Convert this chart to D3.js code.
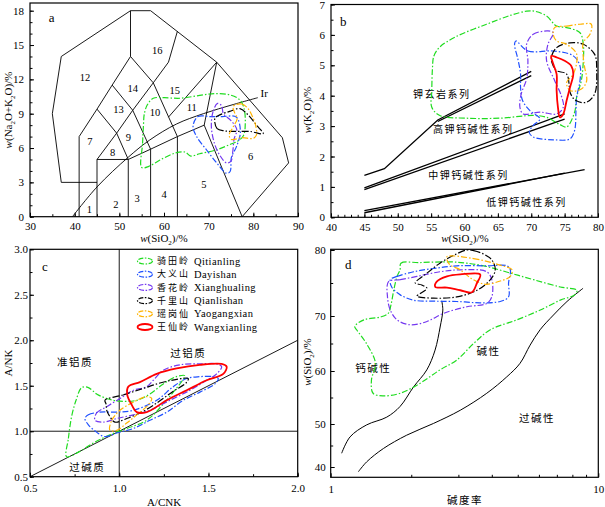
<!DOCTYPE html>
<html lang="zh">
<head>
<meta charset="UTF-8">
<title>Granite discrimination diagrams</title>
<script src="https://cdn.jsdelivr.net/npm/d3@7/dist/d3.min.js"></script>
<style>
  body { margin: 0; background: #fff; }
  text { font-family: "Liberation Serif", "DejaVu Serif", serif; fill: #000; }
  .cn { font-family: "Noto Sans CJK SC", sans-serif; letter-spacing: 1.5px; }
  .axis line { stroke: #000; }
  .axis path { display: none; }
  .axis text { font-size: 11px; }
</style>
</head>
<body>
<script>
// ---- groups (legend) ----
var groupCn = ["骑田岭", "大义山", "香花岭", "千里山", "瑶岗仙", "王仙岭"];
var groupEn = ["Qitianling", "Dayishan", "Xianghualing", "Qianlishan", "Yaogangxian", "Wangxianling"];
var groupColor = ["#1fdc1f", "#1f50ff", "#7438f0", "#000000", "#ffb300", "#ff0000"];

// ---- a: TAS diagram ----
var tasLines = [
  [[37,3],[35,9],[37,14],[52.5,18],[57,18],[71.8,13.5],[86.5,6.9],[87.9,4.7],[77.5,0]],
  [[37,3],[45,3]],
  [[41,0],[41,7],[45,9.4],[48.4,11.5],[52.5,14],[52.5,18]],
  [[45,0],[45,5],[52,5],[57,5.9],[63,7],[69,8],[71.8,13.5]],
  [[52,0],[52,5]], [[57,0],[57,5.9]], [[63,0],[63,7]],
  [[69,8],[77.5,0]],
  [[45,9.4],[49.4,7.3],[52,5]],
  [[45,5],[49.4,7.3],[53,9.3],[57.6,11.7]],
  [[48.4,11.5],[53,9.3],[57,5.9]],
  [[52.5,14],[57.6,11.7],[63,7]],
  [[57.6,11.7],[61,13.5],[63,16.2]],
  [[61,8.7],[71.8,13.5]]
];
var irvine = [[39.5,0],[45,2.6],[52,5.2],[56.8,6.7],[62.8,8.1],[68.8,9.0],[75.5,9.8],[81,10.4]];
var tasFieldNames = ["1","2","3","4","5","6","7","8","9","10","11","12","13","14","15","16"];
var tasFieldPos = [[43.3,0.65],[49.2,1.1],[54,1.55],[60,1.95],[68.9,2.8],[79.4,5.3],[43.4,6.6],[48.5,5.6],[52,6.9],[58,9.1],[66.2,9.55],[42.3,12.2],[49.8,9.4],[53,11.2],[62.4,11.0],[58.5,14.5]];
var tasOutlines = [
  [[55.0,4.3],[55.2,6.4],[55.4,8.0],[55.6,9.0],[56.3,9.8],[57.6,10.35],[60,10.4],[63.6,10.35],[68,10.6],[71.5,10.75],[74.7,10.65],[77,10.2],[77.9,9.5],[78.2,8.2],[77.8,7.1],[76.5,6.6],[74.7,6.3],[71.8,5.85],[68,5.5],[66,5.3],[64.7,5.65],[62.4,5.55],[59.1,4.95],[56.6,4.4]],
  [[66.5,7.9],[67.6,8.75],[70.3,8.75],[73,8.75],[76.2,8.7],[77.1,7.4],[76.2,6.1],[75.1,5.2],[74.8,3.95],[74,3.8],[71.8,4.7],[69.5,5.85],[67.3,7.0]],
  [[72.0,9.9],[71.0,9.2],[70.6,7.9],[71.3,6.4],[72.6,5.3],[74.0,4.7],[75.0,4.85],[75.4,5.7],[75.7,6.8],[76.3,7.6],[75.0,8.4],[73.3,9.0],[72.9,9.7]],
  [[71.4,8.6],[71.9,7.7],[73.5,7.5],[76,7.45],[79.2,7.45],[82.2,7.25],[80.7,8.0],[78.8,8.9],[77,9.45],[74.7,9.2],[72.5,8.9]],
  [[75.5,9.65],[77.4,9.85],[78.8,9.45],[79.8,8.75],[80.5,8.0],[80.7,7.15],[80.0,6.85],[77.4,6.9],[75.1,6.75],[74.6,7.15],[75.5,7.85],[76.4,8.6],[75.9,9.0]],
  null
];

// ---- b: SiO2-K2O ----
var kLines = [
  [[45,1.38],[48,1.6],[56,3.2],[70,4.8]],
  [[56,3.15],[70,4.66]],
  [[45,0.97],[75,3.4]],
  [[45,0.91],[75,3.23]],
  [[45,0.22],[78,1.57]],
  [[45,0.15],[75,1.45]]
];
var kSeriesNames = ["钾玄岩系列", "高钾钙碱性系列", "中钾钙碱性系列", "低钾钙碱性系列"];
var kSeriesPos = [[56.6,4.08],[61.3,2.91],[60.6,1.42],[69.3,0.53]];
var kOutlines = [
  [[55.2,4.9],[55.4,5.3],[56.3,5.6],[58.8,5.95],[63.3,6.35],[67,6.65],[69.3,6.78],[70.5,6.78],[72.3,6.62],[73.8,6.29],[75.3,6.24],[77.3,6.07],[77.8,5.69],[77.8,5.15],[77.5,4.49],[76.8,3.95],[76.5,3.46],[75.3,2.97],[74.3,3.05],[72.3,3.29],[70.3,3.35],[65.3,3.26],[60.3,3.26],[56.3,3.35],[55.1,3.62],[55.1,4.17]],
  [[67.7,5.8],[69.5,5.47],[73.3,5.47],[76.3,5.31],[77.3,4.98],[77.3,4.49],[76.8,3.95],[76.7,3.51],[76.5,2.86],[75.8,2.58],[73.3,2.55],[70.3,2.64],[69.7,2.8],[70.3,3.02],[71.3,3.24],[69.8,3.51],[68.7,3.84],[68.4,4.27],[68.4,4.71],[68.0,5.2],[67.5,5.69]],
  [[69.3,5.69],[70.3,6.02],[72.5,6.13],[73.3,6.07],[72.5,5.69],[72.3,5.15],[73.5,4.5],[74.5,4.0],[74.8,3.62],[73.8,3.4],[71.3,3.46],[68.8,3.4],[68.3,3.62],[68.5,4.06],[69.3,4.55],[69.5,5.15]],
  [[73.0,5.25],[73.8,5.58],[75.8,5.74],[77.8,5.69],[79.5,5.36],[79.8,4.82],[79.5,4.06],[78.2,3.78],[76.7,3.84],[75.9,4.06],[75.3,4.71],[73.8,4.82],[73.3,4.98]],
  [[73.5,6.24],[75.3,6.29],[77.3,6.35],[79.0,6.35],[78.8,6.02],[77.8,5.75],[77.8,5.26],[78.0,4.93],[78.3,4.49],[77.5,4.22],[75.8,4.17],[75.3,4.44],[76.3,4.71],[76.8,5.37],[75.3,5.69],[73.8,5.8],[73.3,6.02]],
  [[73.0,5.31],[73.8,5.26],[75.0,5.15],[76.0,4.98],[76.3,4.71],[75.8,4.27],[75.3,3.84],[74.8,3.4],[74.3,3.29],[74.0,3.62],[73.8,4.17],[73.8,4.71],[73.3,5.04]]
];

// ---- c: A/CNK - A/NK ----
var acnkNames = ["准铝质", "过铝质", "过碱质"];
var acnkPos = [[0.752,1.77],[1.387,1.86],[0.821,0.61]];
var acnkOutlines = [
  [[0.705,0.72],[0.715,0.92],[0.733,1.16],[0.758,1.34],[0.79,1.48],[0.827,1.48],[0.873,1.41],[0.93,1.36],[1.004,1.33],[1.098,1.34],[1.172,1.41],[1.247,1.52],[1.32,1.6],[1.368,1.61],[1.355,1.56],[1.303,1.43],[1.247,1.3],[1.191,1.18],[1.135,1.1],[1.042,1.03],[0.948,0.96],[0.855,0.87],[0.771,0.77]],
  [[0.808,1.14],[0.827,1.18],[0.892,1.21],[0.986,1.21],[1.079,1.23],[1.21,1.34],[1.303,1.49],[1.378,1.58],[1.452,1.6],[1.527,1.6],[1.555,1.58],[1.536,1.52],[1.452,1.43],[1.359,1.34],[1.266,1.21],[1.172,1.12],[1.079,1.03],[0.986,0.98],[0.92,0.94],[0.873,0.99],[0.827,1.07]],
  [[0.864,1.12],[0.873,1.2],[0.93,1.27],[1.004,1.36],[1.079,1.45],[1.154,1.49],[1.191,1.56],[1.247,1.67],[1.34,1.73],[1.452,1.74],[1.546,1.74],[1.574,1.71],[1.546,1.63],[1.49,1.56],[1.396,1.45],[1.284,1.34],[1.172,1.23],[1.079,1.18],[0.986,1.14],[0.911,1.1]],
  [[0.92,1.34],[1.023,1.40],[1.135,1.47],[1.228,1.53],[1.322,1.57],[1.387,1.58],[1.374,1.53],[1.303,1.44],[1.21,1.31],[1.116,1.20],[1.042,1.14],[0.976,1.1],[0.948,1.16],[0.93,1.23],[0.926,1.3]],
  [[0.948,1.01],[0.958,1.12],[1.004,1.23],[1.079,1.32],[1.154,1.38],[1.182,1.36],[1.163,1.29],[1.098,1.18],[1.042,1.09],[0.986,1.01]],
  [[1.051,1.49],[1.116,1.54],[1.21,1.63],[1.322,1.69],[1.452,1.73],[1.574,1.74],[1.602,1.71],[1.583,1.63],[1.49,1.56],[1.378,1.45],[1.266,1.34],[1.154,1.21],[1.098,1.21],[1.07,1.29],[1.045,1.4]]
];

// ---- d: alkalinity ratio - SiO2 ----
var arCurve1 = [[1.099,43.2],[1.181,47.0],[1.363,49.8],[1.62,51.3],[1.816,53.3],[2.04,57.0],[2.286,60.2],[2.455,63.8],[2.564,68.0],[2.624,70.9],[2.6,72.3]];
var arCurve2 = [[1.269,38.9],[1.363,41.2],[1.574,44.3],[1.923,47.4],[2.42,50.1],[3.05,52.6],[3.83,55.8],[4.55,58.9],[5.1,61.4],[5.56,64.7],[6.06,67.5],[6.8,70.15],[7.64,72.2],[8.77,74.2]];
var arNames = ["钙碱性", "碱性", "过碱性"];
var arPos = [[1.443,60.7],[3.89,63.7],[5.9,51.2]];
var arOutlines = [
  [[1.816,77.0],[1.83,78.0],[2.16,78.1],[2.8,78.2],[3.23,78.0],[3.83,77.5],[4.69,76.5],[5.73,75.5],[7.21,74.4],[8.32,73.9],[8.15,73.2],[7.21,72.4],[6.07,70.9],[4.96,69.3],[3.95,67.5],[3.42,65.0],[2.96,62.0],[2.56,60.2],[2.16,57.7],[1.82,55.8],[1.57,55.3],[1.44,55.8],[1.42,58.3],[1.47,61.4],[1.36,65.0],[1.25,67.5],[1.23,68.1],[1.33,69.3],[1.53,69.8],[1.64,70.4],[1.68,71.7],[1.72,73.9],[1.77,76.0]],
  [[1.67,75.5],[1.77,76.0],[2.04,76.7],[2.42,77.2],[2.96,77.6],[3.83,77.6],[4.55,77.6],[4.69,77.0],[4.62,75.0],[4.62,72.9],[4.30,72.2],[3.62,72.0],[2.96,72.2],[2.42,72.25],[2.04,72.4],[1.82,73.2],[1.69,74.4]],
  [[1.645,75.2],[1.82,75.5],[2.1,76.0],[2.56,76.7],[3.05,77.0],[3.83,76.7],[4.0,75.5],[4.0,72.9],[3.83,71.9],[3.23,71.4],[2.64,70.4],[2.29,69.0],[1.98,68.4],[1.77,69.3],[1.67,70.9],[1.63,72.9]],
  [[3.23,80.0],[3.42,79.9],[3.72,79.4],[4.0,78.5],[4.12,77.0],[3.95,75.5],[3.52,73.9],[2.96,72.9],[2.42,72.7],[2.1,73.0],[2.16,73.4],[2.29,74.2],[2.19,74.7],[2.07,75.0],[2.29,76.5],[2.56,78.0],[2.88,79.2]],
  [[2.72,79.0],[3.42,78.7],[4.30,77.7],[4.76,77.0],[4.69,76.0],[4.30,75.3],[3.83,74.8],[3.62,75.0],[3.32,75.8],[3.05,77.0],[2.8,77.7],[2.72,78.5]],
  [[2.46,74.4],[2.49,75.2],[2.72,76.0],[3.05,76.3],[3.62,76.3],[3.52,75.0],[3.37,73.6],[3.05,73.9],[2.72,74.3]]
];

var svg = d3.select("body").append("svg")
  .attr("width", 605)
  .attr("height", 507);

function dashFor(i) {
  if (i == 5) return null;
  if (i == 3) return "7,2,1.5,2";
  return "6,2,1.5,2";
}

function drawAxes(box, x, y, xt, xm, yt, ym, xf, yf, padX, padY) {
  var g = svg.append("g");
  g.append("g").attr("class", "axis").attr("transform", "translate(0," + box.y1 + ")")
    .call(d3.axisBottom(x).tickValues(xm).tickSize(-2.5).tickFormat(""));
  g.append("g").attr("class", "axis").attr("transform", "translate(0," + box.y1 + ")")
    .call(d3.axisBottom(x).tickValues(xt).tickSizeInner(-4).tickSizeOuter(0).tickPadding(padX).tickFormat(xf));
  g.append("g").attr("class", "axis").attr("transform", "translate(" + box.x0 + ",0)")
    .call(d3.axisLeft(y).tickValues(ym).tickSize(-2.5).tickFormat(""));
  g.append("g").attr("class", "axis").attr("transform", "translate(" + box.x0 + ",0)")
    .call(d3.axisLeft(y).tickValues(yt).tickSizeInner(-4).tickSizeOuter(0).tickPadding(padY).tickFormat(yf));
  g.append("rect")
    .attr("x", box.x0).attr("y", box.y0)
    .attr("width", box.x1 - box.x0).attr("height", box.y1 - box.y0)
    .attr("fill", "none").attr("stroke", "#000").attr("stroke-width", 1.2);
  return g;
}

function drawOutlines(outlines, x, y) {
  var line = d3.line()
    .x(function(d) { return x(d[0]); })
    .y(function(d) { return y(d[1]); })
    .curve(d3.curveCatmullRomClosed.alpha(0.5));
  outlines.forEach(function(pts, i) {
    if (!pts) return;
    svg.append("path")
      .attr("d", line(pts))
      .attr("fill", "none")
      .attr("stroke", groupColor[i])
      .attr("stroke-width", i == 5 ? 1.8 : 1.2)
      .attr("stroke-dasharray", dashFor(i));
  });
}

function chemText(x, y, parts, rotate) {
  var t = svg.append("text")
    .attr("text-anchor", "middle")
    .attr("font-size", 11)
    .attr("transform", "translate(" + x + "," + y + ")" + (rotate ? " rotate(-90)" : ""));
  parts.forEach(function(p) {
    var s = t.append("tspan").text(p[0]);
    if (p[1] == "i") s.attr("font-style", "italic");
    if (p[1] == "sub") s.attr("font-size", 7).attr("dy", 2.5);
    if (p[1] == "up") s.attr("dy", -2.5);
  });
  return t;
}

function cnLabel(x, y, txt, size) {
  svg.append("text").attr("class", "cn")
    .attr("x", x).attr("y", y)
    .attr("text-anchor", "middle")
    .attr("dominant-baseline", "central")
    .attr("font-size", size || 10)
    .text(txt);
}

var plain = function(d) { return d; };
var siLabel = [["w", "i"], ["(SiO"], ["2", "sub"], [")/%", "up"]];

// ================= a =================
var ax = d3.scaleLinear().domain([30, 90]).range([30, 298]);
var ay = d3.scaleLinear().domain([0, 18]).range([216.7, 10.7]);
drawAxes({x0: 30, y0: 3, x1: 298, y1: 216.7}, ax, ay,
  d3.range(30, 91, 10), d3.range(30, 91, 5), d3.range(0, 19, 3), d3.range(0, 19, 1), plain, plain, 6, 6);

var tasLine = d3.line().x(function(d) { return ax(d[0]); }).y(function(d) { return ay(d[1]); });
tasLines.forEach(function(l) {
  svg.append("path").attr("d", tasLine(l)).attr("fill", "none").attr("stroke", "#000").attr("stroke-width", 0.9);
});
svg.append("path")
  .attr("d", tasLine.curve(d3.curveCatmullRom)(irvine))
  .attr("fill", "none").attr("stroke", "#000").attr("stroke-width", 0.9);
svg.append("text").attr("x", ax(81.6)).attr("y", ay(10.5)).attr("font-size", 11).text("Ir");
tasFieldNames.forEach(function(n, i) {
  svg.append("text").attr("x", ax(tasFieldPos[i][0])).attr("y", ay(tasFieldPos[i][1]))
    .attr("text-anchor", "middle").attr("dominant-baseline", "central")
    .attr("font-size", 10.5).text(n);
});
drawOutlines(tasOutlines, ax, ay);
svg.append("text").attr("x", 51.7).attr("y", 21.5).attr("font-size", 13).attr("text-anchor", "middle").text("a");
chemText(164, 242, siLabel);
chemText(12, 110, [["w", "i"], ["(Na"], ["2", "sub"], ["O+K", "up"], ["2", "sub"], ["O)/%", "up"]], true);

// ================= b =================
var bx = d3.scaleLinear().domain([40, 80]).range([331, 598]);
var by = d3.scaleLinear().domain([0, 7]).range([217.3, 4.5]);
drawAxes({x0: 331, y0: 4.5, x1: 598, y1: 217.3}, bx, by,
  d3.range(40, 81, 5), d3.range(40, 81, 1), d3.range(0, 8, 1), d3.range(0, 7.01, 0.5), plain, plain, 6, 6);
var kLine = d3.line().x(function(d) { return bx(d[0]); }).y(function(d) { return by(d[1]); });
kLines.forEach(function(l) {
  svg.append("path").attr("d", kLine(l)).attr("fill", "none").attr("stroke", "#000").attr("stroke-width", 1.3);
});
kSeriesNames.forEach(function(n, i) {
  cnLabel(bx(kSeriesPos[i][0]), by(kSeriesPos[i][1]), n, 10);
});
drawOutlines(kOutlines, bx, by);
svg.append("text").attr("x", 343.3).attr("y", 26).attr("font-size", 13).attr("text-anchor", "middle").text("b");
chemText(465, 242, siLabel);
chemText(311, 110, [["w", "i"], ["(K"], ["2", "sub"], ["O)/%", "up"]], true);

// ================= c =================
var cx = d3.scaleLinear().domain([0.5, 2.0]).range([30, 297.7]);
var cy = d3.scaleLinear().domain([0.5, 3.0]).range([476.7, 249.3]);
var f1 = d3.format(".1f");
drawAxes({x0: 30, y0: 249.3, x1: 297.7, y1: 476.7}, cx, cy,
  [0.5, 1.0, 1.5, 2.0], d3.range(0.5, 2.01, 0.25), d3.range(0.5, 3.01, 0.5), d3.range(0.5, 3.01, 0.25), f1, f1, 8, 2);
var cLine = d3.line().x(function(d) { return cx(d[0]); }).y(function(d) { return cy(d[1]); });
[[[1, 0.5], [1, 3]], [[0.5, 1], [2, 1]], [[0.5, 0.5], [2, 2]]].forEach(function(l) {
  svg.append("path").attr("d", cLine(l)).attr("fill", "none").attr("stroke", "#000").attr("stroke-width", 0.9);
});
acnkNames.forEach(function(n, i) {
  cnLabel(cx(acnkPos[i][0]), cy(acnkPos[i][1]), n, 10.5);
});
drawOutlines(acnkOutlines, cx, cy);
svg.append("text").attr("x", 45).attr("y", 271).attr("font-size", 13).attr("text-anchor", "middle").text("c");
svg.append("text").attr("x", 164).attr("y", 506).attr("font-size", 11).attr("text-anchor", "middle").text("A/CNK");
svg.append("text").attr("transform", "translate(12,363) rotate(-90)").attr("font-size", 11).attr("text-anchor", "middle").text("A/NK");

// legend
var leg = svg.append("g");
groupCn.forEach(function(n, i) {
  var yy = 261 + i * 13.2;
  leg.append("ellipse").attr("cx", 145).attr("cy", yy).attr("rx", 7.5).attr("ry", 3)
    .attr("fill", "none").attr("stroke", groupColor[i])
    .attr("stroke-width", i == 5 ? 1.8 : 1.2)
    .attr("stroke-dasharray", i == 5 ? null : "5,1.5,1.5,1.5");
  leg.append("text").attr("class", "cn").attr("x", 157).attr("y", yy + 3.2)
    .attr("font-size", 9).style("letter-spacing", "2px").text(n);
  leg.append("text").attr("x", 194).attr("y", yy + 3.5)
    .attr("font-size", 10.5).attr("letter-spacing", 0.4).text(groupEn[i]);
});

// ================= d =================
var dx = d3.scaleLog().domain([1, 10]).range([330.7, 598.3]);
var dy = d3.scaleLinear().domain([40, 50, 60, 70, 80]).range([467, 424, 371, 316, 250]);
drawAxes({x0: 330.7, y0: 249.3, x1: 598.3, y1: 477.3}, dx, dy,
  [1, 10], [2, 3, 4, 5, 6, 7, 8, 9], [40, 50, 60, 70, 80], [45, 55, 65, 75], plain, plain, 8, 5);
var dLine = d3.line().x(function(d) { return dx(d[0]); }).y(function(d) { return dy(d[1]); })
  .curve(d3.curveCatmullRom);
[arCurve1, arCurve2].forEach(function(l) {
  svg.append("path").attr("d", dLine(l)).attr("fill", "none").attr("stroke", "#000").attr("stroke-width", 1);
});
arNames.forEach(function(n, i) {
  cnLabel(dx(arPos[i][0]), dy(arPos[i][1]), n, 10.5);
});
drawOutlines(arOutlines, dx, dy);
svg.append("text").attr("x", 348.3).attr("y", 269).attr("font-size", 13).attr("text-anchor", "middle").text("d");
cnLabel(465, 499, "碱度率", 10.5);
chemText(311, 362, siLabel, true);
</script>
</body>
</html>
